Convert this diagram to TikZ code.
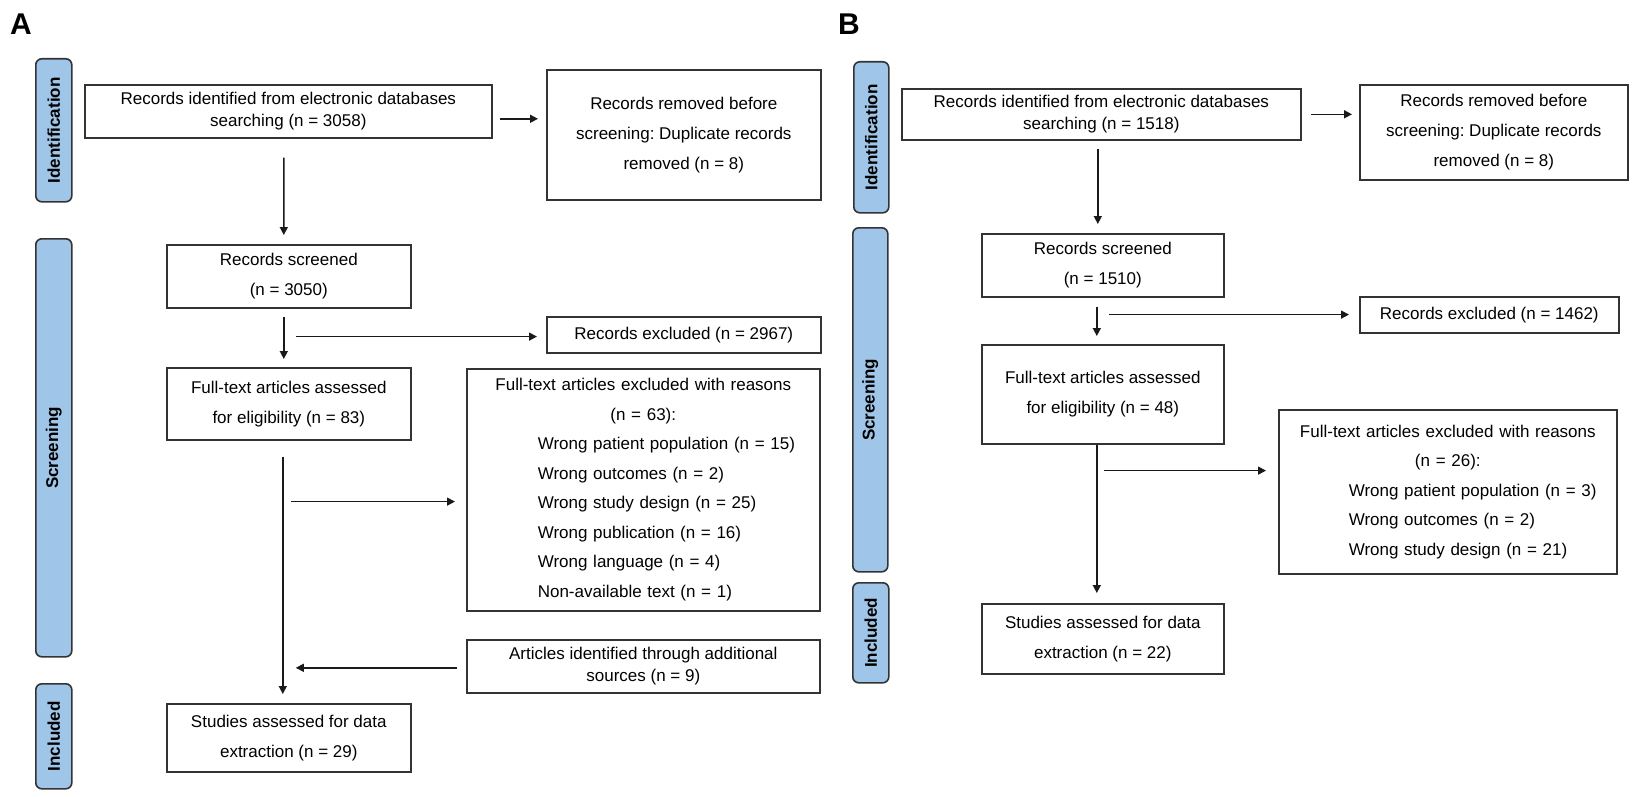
\documentclass[tikz,border=0pt]{standalone}
\usepackage{fontspec}
\setmainfont{Liberation Sans}
\usepackage{graphicx}
\usetikzlibrary{arrows.meta,calc}
\frenchspacing
\definecolor{tabfill}{HTML}{9FC5E8}
\definecolor{tabline}{HTML}{333333}
\definecolor{boxline}{HTML}{333333}
\definecolor{arrc}{HTML}{1A1A1A}
\tikzset{
  box/.style={draw=boxline, line width=1.6bp, fill=white, inner sep=0pt, anchor=north west,
    align=center, font=\fontsize{17bp}{30bp}\selectfont},
  tight/.style={font=\fontsize{17bp}{22bp}\selectfont},
  tabbox/.style={draw=tabline, fill=tabfill, line width=1.6bp, rounded corners=6bp, inner sep=0pt,
    anchor=north west, font=\bfseries\fontsize{17bp}{20bp}\selectfont},
  arr/.style={draw=arrc, line width=1.5bp, -{Triangle[length=8bp,width=8bp]}},
  panel/.style={font=\bfseries\fontsize{30bp}{30bp}\selectfont, inner sep=0pt, anchor=base west},
  listbox/.style={box, align=left, font=\fontsize{17bp}{29.5bp}\selectfont}
}
\begin{document}
\begin{tikzpicture}[x=1bp,y=-1bp]
\fill[white] (0,0) rectangle (1632,797);
\useasboundingbox (0,0) rectangle (1632,797);

% ---------------- Panel A ----------------
\node[panel] (pa) at (10,35) {A};
\node[tabbox, minimum width=36bp, minimum height=143bp] (tia) at (35,58) {\rotatebox{90}{Identification}};
\node[tabbox, minimum width=36bp, minimum height=418bp] (tsa) at (35,238) {\rotatebox{90}{Screening}};
\node[tabbox, minimum width=36bp, minimum height=105bp] (tna) at (35,683) {\rotatebox{90}{Included}};

\node[box, tight, minimum width=407bp, minimum height=53bp] (a1) at (84,84)
  {Records identified from electronic databases\\searching (n = 3058)};
\node[box, minimum width=274bp, minimum height=130bp] (a2) at (546,69)
  {Records removed before\\screening: Duplicate records\\removed (n = 8)};
\node[box, minimum width=244bp, minimum height=63bp] (a3) at (166,244)
  {Records screened\\(n = 3050)};
\node[box, minimum width=274bp, minimum height=36bp] (a4) at (546,316)
  {Records excluded (n = 2967)};
\node[box, minimum width=244bp, minimum height=72bp] (a5) at (166,367)
  {Full-text articles assessed\\for eligibility (n = 83)};
\node[listbox, minimum width=353bp, minimum height=242bp, text width=353bp] (a6) at (466,368)
  {\centering Full-text articles excluded with reasons\\(n = 63):\par
   \raggedright\leftskip=71bp Wrong patient population (n = 15)\\Wrong outcomes (n = 2)\\Wrong study design (n = 25)\\Wrong publication (n = 16)\\Wrong language (n = 4)\\Non-available text (n = 1)\par};
\node[box, tight, minimum width=353bp, minimum height=53bp] (a7) at (466,639)
  {Articles identified through additional\\sources (n = 9)};
\node[box, minimum width=244bp, minimum height=68bp] (a8) at (166,703)
  {Studies assessed for data\\extraction (n = 29)};

\coordinate (a13s) at ($(a1.south)+(-4.5,19)$);
\coordinate (a13e) at ($(a3.north)+(-5,-9)$);
\draw[arr] (a13s) -- (a13e);
\coordinate (a12s) at ($(a1.east)+(7,7.5)$);
\coordinate (a12e) at ($(a2.west |- a12s)+(-8,0)$);
\draw[arr] (a12s) -- (a12e);
\coordinate (a35s) at ($(a3.south)+(-5,8)$);
\coordinate (a35e) at ($(a5.north)+(-5,-8)$);
\draw[arr] (a35s) -- (a35e);
\coordinate (a4s) at ($(a3.south)+(7,28)$);
\coordinate (a4e) at ($(a4.west |- a4s)+(-9,0)$);
\draw[arr] (a4s) -- (a4e);
\coordinate (a58s) at ($(a5.south)+(-6,16)$);
\coordinate (a58e) at ($(a8.north)+(-6,-9)$);
\draw[arr] (a58s) -- (a58e);
\coordinate (a6s) at ($(a5.south)+(2,61)$);
\coordinate (a6e) at ($(a6.west |- a6s)+(-11,0)$);
\draw[arr] (a6s) -- (a6e);
\coordinate (a7s) at ($(a7.west)+(-9,1.5)$);
\coordinate (a7e) at ($(a58s |- a7s)+(13,0)$);
\draw[arr] (a7s) -- (a7e);

% ---------------- Panel B ----------------
\node[panel] (pb) at (838,35) {B};
\node[tabbox, minimum width=35bp, minimum height=151bp] (tib) at (853,61) {\rotatebox{90}{Identification}};
\node[tabbox, minimum width=35bp, minimum height=344bp] (tsb) at (852,227) {\rotatebox{90}{Screening}};
\node[tabbox, minimum width=36bp, minimum height=100bp] (tnb) at (852,582) {\rotatebox{90}{Included}};

\node[box, tight, minimum width=399bp, minimum height=51bp] (b1) at (901,88)
  {Records identified from electronic databases\\searching (n = 1518)};
\node[box, minimum width=268bp, minimum height=95bp] (b2) at (1359,84)
  {Records removed before\\screening: Duplicate records\\removed (n = 8)};
\node[box, minimum width=242bp, minimum height=63bp] (b3) at (981,233)
  {Records screened\\(n = 1510)};
\node[box, minimum width=259bp, minimum height=36bp] (b4) at (1359,296)
  {Records excluded (n = 1462)};
\node[box, minimum width=242bp, minimum height=99bp] (b5) at (981,344)
  {Full-text articles assessed\\for eligibility (n = 48)};
\node[listbox, minimum width=338bp, minimum height=164bp, text width=338bp] (b6) at (1278,409)
  {\centering Full-text articles excluded with reasons\\(n = 26):\par
   \raggedright\leftskip=70bp Wrong patient population (n = 3)\\Wrong outcomes (n = 2)\\Wrong study design (n = 21)\par};
\node[box, minimum width=242bp, minimum height=70bp] (b7) at (981,603)
  {Studies assessed for data\\extraction (n = 22)};

\coordinate (b13s) at ($(b1.south)+(-5.5,8)$);
\coordinate (b13s) at ($(b3.north |- b13s)+(-5,0)$);
\coordinate (b13e) at ($(b3.north)+(-5,-9)$);
\draw[arr] (b13s) -- (b13e);
\coordinate (b12s) at ($(b1.east)+(9,0)$);
\coordinate (b12e) at ($(b2.west |- b12s)+(-7,0)$);
\draw[arr] (b12s) -- (b12e);
\coordinate (b35s) at ($(b3.south)+(-6,9)$);
\coordinate (b35e) at ($(b5.north)+(-6,-8)$);
\draw[arr] (b35s) -- (b35e);
\coordinate (b4s) at ($(b3.south)+(6,17)$);
\coordinate (b4e) at ($(b4.west |- b4s)+(-10,0)$);
\draw[arr] (b4s) -- (b4e);
\coordinate (b57e) at ($(b7.north)+(-6,-10)$);
\draw[arr] (b5.south -| b57e) -- (b57e);
\coordinate (b6s) at ($(b5.south)+(1,26)$);
\coordinate (b6e) at ($(b6.west |- b6s)+(-12,0)$);
\draw[arr] (b6s) -- (b6e);
\end{tikzpicture}
\end{document}
